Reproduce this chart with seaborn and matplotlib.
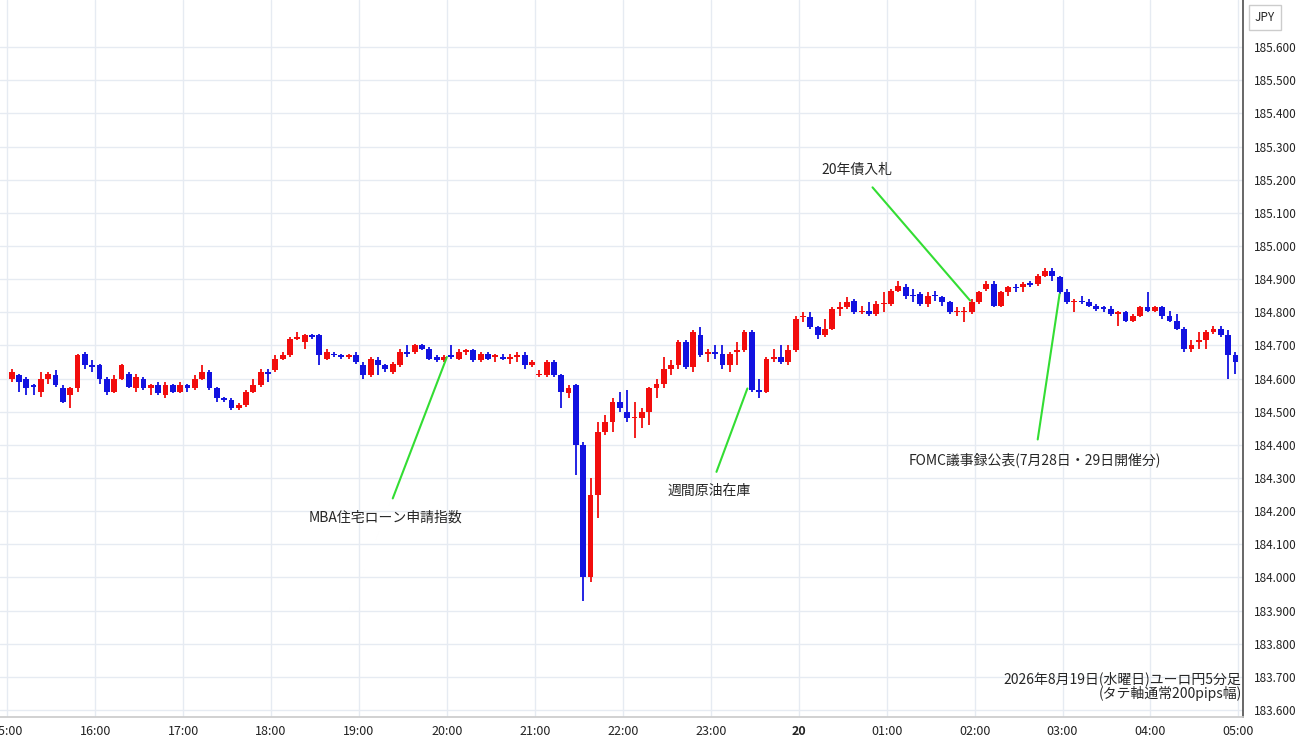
import numpy as np
import pandas as pd
import matplotlib
matplotlib.use("Agg")
import matplotlib.pyplot as plt
import seaborn as sns

opens = [184.600,184.610,184.600,184.580,184.560,184.600,184.610,184.570,184.550,184.570,
         184.675,184.640,184.640,184.600,184.560,184.600,184.615,184.570,184.600,184.570,
         184.580,184.550,184.580,184.560,184.580,184.570,184.600,184.620,184.570,184.540,
         184.535,184.510,184.520,184.560,184.580,184.620,184.625,184.660,184.670,184.720,
         184.710,184.730,184.730,184.660,184.675,184.670,184.665,184.670,184.640,184.610,
         184.655,184.640,184.620,184.640,184.680,184.680,184.700,184.690,184.665,184.655,
         184.670,184.660,184.680,184.685,184.655,184.675,184.665,184.665,184.660,184.665,
         184.670,184.640,184.610,184.610,184.650,184.610,184.555,184.580,184.400,184.000,
         184.250,184.440,184.470,184.530,184.500,184.480,184.480,184.500,184.570,184.585,
         184.630,184.640,184.710,184.635,184.730,184.675,184.680,184.675,184.640,184.680,
         184.685,184.740,184.565,184.560,184.660,184.665,184.650,184.685,184.785,184.785,
         184.755,184.730,184.750,184.810,184.815,184.835,184.800,184.805,184.795,184.825,
         184.825,184.865,184.875,184.850,184.855,184.825,184.850,184.845,184.830,184.800,
         184.800,184.800,184.830,184.870,184.885,184.820,184.860,184.875,184.875,184.885,
         184.885,184.910,184.925,184.905,184.860,184.830,184.835,184.830,184.820,184.815,
         184.810,184.795,184.800,184.775,184.790,184.815,184.805,184.815,184.790,184.775,
         184.750,184.690,184.710,184.715,184.740,184.750,184.730,184.670]
closes = [184.620,184.590,184.570,184.575,184.600,184.615,184.580,184.530,184.570,184.670,
          184.640,184.635,184.600,184.560,184.600,184.640,184.575,184.605,184.570,184.580,
          184.555,184.580,184.560,184.580,184.570,184.600,184.620,184.570,184.540,184.535,
          184.510,184.520,184.560,184.580,184.620,184.615,184.660,184.670,184.720,184.725,
          184.730,184.725,184.670,184.680,184.670,184.665,184.670,184.650,184.610,184.660,
          184.640,184.630,184.645,184.680,184.675,184.700,184.690,184.660,184.655,184.665,
          184.665,184.680,184.685,184.655,184.675,184.660,184.670,184.660,184.665,184.670,
          184.640,184.650,184.615,184.650,184.610,184.560,184.570,184.400,184.000,184.250,
          184.440,184.470,184.530,184.510,184.480,184.482,184.500,184.570,184.585,184.630,
          184.640,184.710,184.635,184.740,184.670,184.680,184.675,184.640,184.675,184.685,
          184.740,184.565,184.560,184.660,184.665,184.650,184.685,184.780,184.790,184.755,
          184.730,184.750,184.810,184.815,184.830,184.800,184.805,184.795,184.825,184.827,
          184.865,184.880,184.850,184.848,184.825,184.850,184.848,184.830,184.800,184.805,
          184.805,184.830,184.860,184.885,184.820,184.860,184.875,184.873,184.885,184.883,
          184.910,184.925,184.910,184.860,184.830,184.835,184.830,184.820,184.810,184.810,
          184.795,184.800,184.775,184.790,184.815,184.805,184.815,184.790,184.775,184.750,
          184.690,184.700,184.715,184.740,184.750,184.730,184.670,184.650]
highs = [184.630,184.615,184.605,184.585,184.620,184.620,184.625,184.580,184.575,184.675,
         184.680,184.655,184.645,184.605,184.610,184.645,184.620,184.615,184.605,184.585,
         184.590,184.590,184.585,184.590,184.585,184.610,184.640,184.625,184.575,184.545,
         184.540,184.525,184.565,184.600,184.630,184.630,184.670,184.680,184.725,184.740,
         184.735,184.735,184.735,184.690,184.680,184.675,184.675,184.680,184.650,184.665,
         184.665,184.645,184.650,184.690,184.700,184.705,184.705,184.695,184.670,184.670,
         184.700,184.690,184.690,184.690,184.680,184.680,184.675,184.675,184.675,184.680,
         184.680,184.655,184.625,184.655,184.655,184.615,184.580,184.585,184.410,184.300,
         184.470,184.490,184.540,184.560,184.565,184.530,184.510,184.575,184.600,184.665,
         184.655,184.715,184.715,184.745,184.755,184.690,184.700,184.700,184.680,184.710,
         184.745,184.745,184.600,184.665,184.690,184.700,184.700,184.790,184.800,184.800,
         184.760,184.780,184.815,184.830,184.845,184.840,184.820,184.830,184.835,184.860,
         184.870,184.895,184.885,184.870,184.860,184.860,184.865,184.850,184.835,184.815,
         184.815,184.840,184.865,184.895,184.895,184.865,184.880,184.885,184.890,184.895,
         184.915,184.935,184.935,184.910,184.870,184.840,184.850,184.840,184.825,184.820,
         184.820,184.805,184.805,184.795,184.820,184.860,184.820,184.820,184.805,184.795,
         184.755,184.715,184.740,184.745,184.760,184.760,184.745,184.680]
lows = [184.590,184.560,184.550,184.550,184.545,184.585,184.575,184.525,184.510,184.560,
        184.630,184.620,184.585,184.550,184.555,184.595,184.570,184.560,184.565,184.550,
        184.550,184.540,184.555,184.555,184.560,184.565,184.595,184.565,184.530,184.530,
        184.505,184.505,184.515,184.555,184.575,184.590,184.620,184.655,184.665,184.715,
        184.690,184.720,184.640,184.655,184.665,184.660,184.660,184.645,184.600,184.605,
        184.610,184.620,184.615,184.635,184.665,184.675,184.685,184.655,184.650,184.650,
        184.660,184.655,184.670,184.650,184.650,184.655,184.650,184.655,184.645,184.650,
        184.630,184.635,184.605,184.605,184.605,184.510,184.540,184.310,183.930,183.985,
        184.180,184.430,184.440,184.500,184.470,184.420,184.450,184.460,184.540,184.570,
        184.610,184.630,184.630,184.620,184.665,184.650,184.660,184.630,184.620,184.640,
        184.680,184.560,184.540,184.555,184.650,184.645,184.640,184.680,184.770,184.750,
        184.720,184.725,184.745,184.790,184.810,184.795,184.795,184.790,184.790,184.800,
        184.820,184.860,184.840,184.830,184.820,184.815,184.835,184.820,184.795,184.790,
        184.770,184.795,184.825,184.865,184.815,184.815,184.850,184.860,184.860,184.875,
        184.880,184.905,184.895,184.855,184.825,184.800,184.825,184.815,184.805,184.800,
        184.790,184.760,184.770,184.770,184.785,184.800,184.800,184.780,184.770,184.745,
        184.680,184.680,184.690,184.690,184.735,184.725,184.600,184.615]

hour_labels = ["15:00","16:00","17:00","18:00","19:00","20:00","21:00","22:00",
               "23:00","20","01:00","02:00","03:00","04:00","05:00"]
events = ["MBA住宅ローン申請指数", "週間原油在庫", "20年債入札", "FOMC議事録公表(7月28日・29日開催分)"]
event_points = [(300, 184.665), (505, 184.57), (657, 184.835), (718, 184.855)]
event_texts = [(258, 184.18), (479, 184.26), (580, 185.23), (701, 184.355)]

df = pd.DataFrame({"open": opens, "high": highs, "low": lows, "close": closes})
df["minute"] = np.arange(len(df)) * 5 + 3   # minutes after 15:00
df["up"] = df["close"] >= df["open"]

sns.set_theme(style="white")
plt.rcParams["font.family"] = ["Noto Sans CJK JP", "DejaVu Sans"]

RED, BLUE = "#f20d0d", "#1212e0"
fig = plt.figure(figsize=(13, 7.45), dpi=100)
ax = fig.add_axes([0, 0.0376, 0.956, 0.9624])

colors = np.where(df["up"], RED, BLUE)
ax.vlines(df["minute"], df["low"], df["high"], colors=colors, linewidth=1.3, zorder=2)
bottoms = df[["open", "close"]].min(axis=1)
heights = (df["close"] - df["open"]).abs().clip(lower=0.004)
ax.bar(df["minute"], heights, bottom=bottoms, width=4.0, color=colors, linewidth=0, zorder=3)

ax.set_xlim(-4.9, 843)
ax.set_ylim(183.579, 185.742)
ax.set_xticks(np.arange(len(hour_labels)) * 60)
ax.set_xticklabels(hour_labels, fontsize=9, color="#222222")
for t in ax.get_xticklabels():
    if t.get_text() == "20":
        t.set_fontweight("bold")
ax.set_yticks(np.round(np.arange(183.6, 185.61, 0.1), 1))
ax.yaxis.set_major_formatter(matplotlib.ticker.FormatStrFormatter("%.3f"))
ax.yaxis.tick_right()
ax.tick_params(axis="y", labelsize=8.5, colors="#222222", length=0, pad=8)
ax.tick_params(axis="x", length=0, pad=6)
ax.grid(True, color="#e6ebf2", linewidth=1)
for s in ["top", "left"]:
    ax.spines[s].set_visible(False)
ax.spines["right"].set_color("#555555")
ax.spines["bottom"].set_color("#cccccc")

for label, pt, tp in zip(events, event_points, event_texts):
    ax.annotate(label, xy=pt, xytext=tp, fontsize=10, ha="center", va="center",
                arrowprops=dict(arrowstyle="-", color="#33dd33", lw=1.5, shrinkA=7, shrinkB=0))

ax.text(0.999, 0.022, "2026年8月19日(水曜日)ユーロ円5分足\n(タテ軸通常200pips幅)",
        transform=ax.transAxes, ha="right", va="bottom", fontsize=10, linespacing=1.0)
fig.text(0.973, 0.977, "JPY", ha="center", va="center", fontsize=8.5,
         bbox=dict(boxstyle="square,pad=0.5", fc="white", ec="#cccccc"))

fig.savefig("out.png", dpi=100)
